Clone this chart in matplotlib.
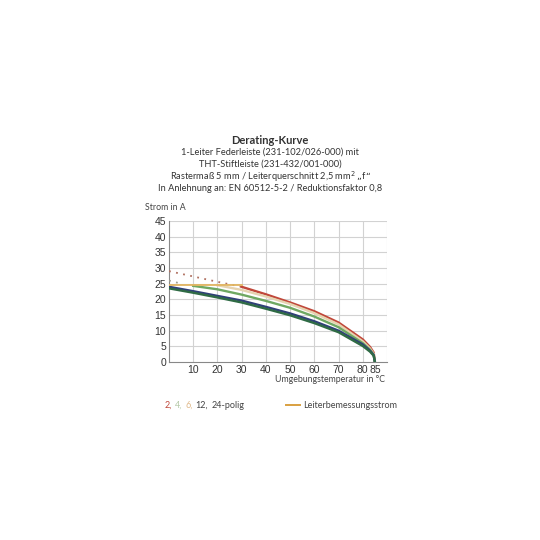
import matplotlib
matplotlib.use("Agg")
import matplotlib.pyplot as plt

# values
temp = [0, 10, 20, 30, 40, 50, 60, 70, 80, 83, 84.5, 85]
i_2pol = [None, None, None, 24.0, 21.6, 19.0, 16.2, 12.6, 7.2, 4.8, 3.0, 0]
i_4pol = [None, None, 24.5, 23.0, 20.9, 18.5, 15.6, 12.0, 6.6, 4.3, 2.6, 0]
i_6pol = [None, 24.3, 23.2, 21.5, 19.5, 17.3, 14.5, 11.1, 6.0, 3.9, 2.3, 0]
i_12pol = [24.0, 22.6, 21.1, 19.6, 17.6, 15.5, 13.0, 10.0, 5.6, 3.6, 2.2, 0]
i_24pol = [23.5, 22.1, 20.6, 19.0, 17.0, 14.9, 12.4, 9.5, 5.1, 3.3, 2.0, 0]

dot_red_t = [0, 10, 20, 30]
dot_red_i = [29.0, 27.3, 25.6, 24.0]
dot_light_t = [0, 5]
dot_light_i = [26.0, 25.0]

rated_t = [0, 30]
rated_i = [24.6, 24.6]

legend_parts = ["2,", "4,", "6,", "12,", "24-polig"]
colors = ["#c0473a", "#e6d3b0", "#6fa862", "#2f3f78", "#2f6b45"]
legend_colors = ["#c0473a", "#b5c9a8", "#e0b98a", "#444444", "#444444"]


def xy(t, v):
    pts = [(a, b) for a, b in zip(t, v) if b is not None]
    return [p[0] for p in pts], [p[1] for p in pts]


fig = plt.figure(figsize=(5.4, 5.4), dpi=100)
ax = fig.add_axes([169/540, 1 - 362/540, 218/540, 141/540])

series = [i_2pol, i_4pol, i_6pol, i_12pol, i_24pol]
ax.plot(dot_red_t, dot_red_i, color="#b07060", lw=1.3, ls=(0, (1, 3)), zorder=3)
ax.plot(dot_light_t, dot_light_i, color="#a0a090", lw=1.3, ls=(0, (1, 3)), zorder=3)
for s, c in zip(series, colors):
    x, y = xy(temp, s)
    ax.plot(x, y, color=c, lw=1.7, zorder=4)
ax.plot(rated_t, rated_i, color="#e2b560", lw=1.3, zorder=5)

ax.set_xlim(0, 90)
ax.set_ylim(0, 45)
ax.set_xticks([10, 20, 30, 40, 50, 60, 70, 80, 85])
ax.set_yticks(range(0, 46, 5))
for xv in range(10, 91, 10):
    ax.axvline(xv, color="#d2d2d2", lw=0.8, zorder=1)
for yv in range(5, 46, 5):
    ax.axhline(yv, color="#d2d2d2", lw=0.8, zorder=1)
for side in ["top", "right"]:
    ax.spines[side].set_visible(False)
ax.spines["left"].set_color("#888888")
ax.spines["bottom"].set_color("#888888")
ax.tick_params(length=0, labelsize=7.5, pad=2, colors="#333333")

for lab in ax.get_xticklabels() + ax.get_yticklabels():
    lab.set_family("Liberation Sans")

title_font = "Lato"
fig.text(0.5, 1 - 140/540, "Derating-Kurve", ha="center", va="center",
         fontsize=8, fontweight="bold", family=title_font, color="#333333")
lines = ["1-Leiter Federleiste (231-102/026-000) mit",
         "THT-Stiftleiste (231-432/001-000)",
         "Rastermaß 5 mm / Leiterquerschnitt 2,5 mm$^2$ \u201ef\u201c",
         "In Anlehnung an: EN 60512-5-2 / Reduktionsfaktor 0,8"]
for k, t in enumerate(lines):
    fig.text(0.5, 1 - (152 + 12.3*k)/540, t, ha="center", va="center",
             fontsize=6.7, family=title_font, color="#333333")

fig.text(145/540, 1 - 207/540, "Strom in A", ha="left", va="center",
         fontsize=6.3, family=title_font, color="#444444")
fig.text(385/540, 1 - 379/540, "Umgebungstemperatur in \u00b0C", ha="right", va="center",
         fontsize=6.3, family=title_font, color="#444444")

# legend row
x0 = 165
for part, c in zip(legend_parts, legend_colors):
    t = fig.text(x0/540, 1 - 405/540, part, ha="left", va="center",
                 fontsize=6.5, family=title_font, color=c)
    fig.canvas.draw()
    bb = t.get_window_extent()
    x0 += bb.width + 3
fig.add_artist(plt.Line2D([286/540, 300/540], [1 - 405/540]*2, color="#d9a040", lw=1.4))
fig.text(303/540, 1 - 405/540, "Leiterbemessungsstrom", ha="left", va="center",
         fontsize=6.5, family=title_font, color="#444444")

fig.savefig("out.png", dpi=100, facecolor="white")
